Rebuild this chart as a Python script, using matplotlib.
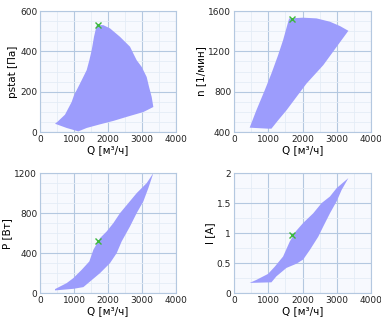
import numpy as np
import matplotlib
matplotlib.use("Agg")
import matplotlib.pyplot as plt
from matplotlib.ticker import MultipleLocator

# working envelopes (polygon outlines), Q in m3/h
pst_q = [1667, 1863, 2059, 2353, 2647, 2745, 2843, 2990, 3137, 3206, 3284, 3333,
         3039, 2549, 2157, 1765, 1373, 1127, 1029, 784, 441, 510, 735, 931,
         1000, 1176, 1373, 1451, 1520, 1588]
pst_v = [530, 530, 514, 472, 423, 389, 356, 323, 273, 224, 174, 124,
         99, 75, 55, 38, 20, 3, 8, 20, 41, 50, 86, 149,
         182, 240, 307, 356, 406, 472]

n_q = [1610, 2020, 2410, 2800, 3093, 3337, 2995, 2605, 2117, 1824, 1532, 1288,
       1093, 995, 459, 654, 898, 1093, 1288, 1434]
n_v = [1527, 1534, 1527, 1494, 1451, 1404, 1245, 1063, 881, 748, 615, 516,
       433, 433, 443, 615, 814, 980, 1162, 1312]

p_q = [3333, 3137, 2843, 2598, 2353, 2157, 1961, 1765, 1569, 1451, 1225, 980,
       784, 441, 441, 980, 1275, 1765, 2059, 2255, 2402, 2647, 2843, 3039, 3186]
p_v = [1200, 1100, 1000, 900, 800, 700, 617, 550, 433, 317, 233, 150,
       100, 40, 27, 43, 60, 200, 300, 400, 517, 667, 800, 917, 1050]

i_q = [3337, 2995, 2800, 2556, 2312, 2020, 1805, 1629, 1434, 1190, 995, 654,
       459, 1093, 1239, 1532, 1824, 2020, 2215, 2459, 2605, 2800, 2995, 3141]
i_v = [1.917, 1.75, 1.61, 1.50, 1.33, 1.17, 1.03, 0.86, 0.61, 0.44, 0.32, 0.22,
       0.17, 0.18, 0.28, 0.42, 0.49, 0.56, 0.72, 0.94, 1.11, 1.33, 1.53, 1.72]

# operating point
op_q = 1700
op_pst, op_n, op_p, op_i = 530, 1520, 520, 0.97

plt.rcParams.update({"font.family": "DejaVu Sans", "font.size": 7})

GRID = "#b4c8e0"
MINOR = "#e4ecf6"
FILL = "#9c9cfc"

fig = plt.figure(figsize=(3.81, 3.2), dpi=100)
panels = [
    ([0.105, 0.5875, 0.357, 0.378], pst_q, pst_v, op_pst, "pstat [Па]", (0, 600), 200, 50),
    ([0.614, 0.5875, 0.360, 0.378], n_q, n_v, op_n, "n [1/мин]", (400, 1600), 400, 100),
    ([0.105, 0.084, 0.357, 0.375], p_q, p_v, op_p, "P [Вт]", (0, 1200), 400, 100),
    ([0.614, 0.084, 0.360, 0.375], i_q, i_v, op_i, "I [A]", (0, 2), 0.5, 0.25),
]
for rect, q, v, op, ylab, ylim, major, minor in panels:
    ax = fig.add_axes(rect)
    ax.set_facecolor("#f7f9fe")
    ax.fill(q, v, color=FILL, lw=0, zorder=2)
    ax.plot([op_q], [op], "x", color="#3cb83c", ms=5, mew=1, zorder=3)
    ax.set_xlim(0, 4000)
    ax.set_ylim(*ylim)
    ax.xaxis.set_major_locator(MultipleLocator(1000))
    ax.xaxis.set_minor_locator(MultipleLocator(500))
    ax.yaxis.set_major_locator(MultipleLocator(major))
    ax.yaxis.set_minor_locator(MultipleLocator(minor))
    if ylab == "I [A]":
        ax.set_yticks([0, 0.5, 1, 1.5, 2], ["0", "0.5", "1", "1.5", "2"])
    ax.grid(which="major", color=GRID, lw=0.8, zorder=1)
    ax.grid(which="minor", color=MINOR, lw=0.6, zorder=0)
    ax.set_axisbelow(True)
    for s in ax.spines.values():
        s.set_color(GRID)
        s.set_linewidth(0.8)
    ax.tick_params(which="both", length=0, pad=2, labelsize=6.5, colors="#222222")
    ax.set_xlabel("Q [м³/ч]", labelpad=1, fontsize=7.5)
    ax.set_ylabel(ylab, labelpad=1.5, fontsize=7.5)

fig.savefig("out.png", dpi=100)
